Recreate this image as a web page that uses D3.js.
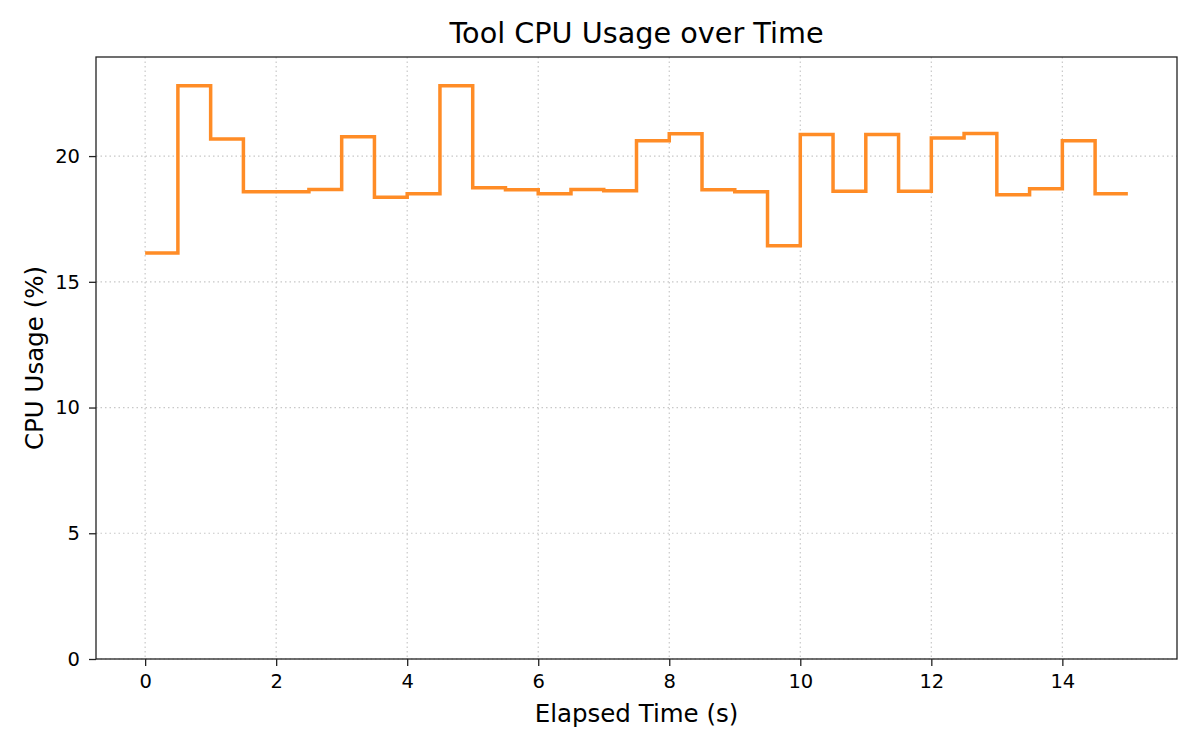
<!DOCTYPE html>
<meta charset="utf-8">
<style>
body { margin: 0; background: white; }
text { font-family: "DejaVu Sans", sans-serif; fill: #000; }
.grid line { stroke: #c8c8c8; stroke-width: 1.2px; stroke-dasharray: 1.5,3; }
.axis path, .axis line { stroke: #222; stroke-width: 1.3px; }
.axis text { font-size: 19.5px; }
</style>
<body>
<script src="https://d3js.org/d3.v7.min.js"></script>
<script>
var width = 1200,
    height = 750;

// sample times (s), step drawn "post"
var times = [0, 0.5, 1, 1.5, 2, 2.5, 3, 3.5, 4, 4.5, 5, 5.5, 6, 6.5, 7, 7.5,
             8, 8.5, 9, 9.5, 10, 10.5, 11, 11.5, 12, 12.5, 13, 13.5, 14, 14.5, 15];
var cpu = [16.15, 22.80, 20.68, 18.58, 18.58, 18.67, 20.77, 18.36, 18.50, 22.80,
           18.74, 18.66, 18.50, 18.67, 18.62, 20.61, 20.89, 18.66, 18.58, 16.43,
           20.86, 18.60, 20.86, 18.60, 20.72, 20.90, 18.46, 18.70, 20.61, 18.50, 18.50];
var xTicks = [0, 2, 4, 6, 8, 10, 12, 14];
var yTicks = [0, 5, 10, 15, 20];

var margin = {top: 57, right: 23, bottom: 91, left: 96};
var w = width - margin.left - margin.right,
    h = height - margin.top - margin.bottom;

var svg = d3.select("body").append("svg")
    .attr("width", width)
    .attr("height", height);

var g = svg.append("g")
    .attr("transform", "translate(" + margin.left + "," + margin.top + ")");

var x = d3.scaleLinear()
    .domain([-0.75, 15.75])
    .range([0, w]);
var y = d3.scaleLinear()
    .domain([0, d3.max(cpu) * 1.05])
    .range([h, 0]);

// grid
g.append("g").attr("class", "grid")
  .selectAll("line").data(xTicks).enter().append("line")
    .attr("x1", function(d) { return x(d); })
    .attr("x2", function(d) { return x(d); })
    .attr("y1", 0).attr("y2", h);
g.append("g").attr("class", "grid")
  .selectAll("line").data(yTicks).enter().append("line")
    .attr("y1", function(d) { return y(d); })
    .attr("y2", function(d) { return y(d); })
    .attr("x1", 0).attr("x2", w);

var line = d3.line()
    .x(function(d, i) { return x(times[i]); })
    .y(function(d) { return y(d); })
    .curve(d3.curveStepAfter);

g.append("path")
    .datum(cpu)
    .attr("d", line)
    .style("fill", "none")
    .style("stroke", "#ff8c26")
    .style("stroke-width", 3.5)
    .style("stroke-linejoin", "miter");

// axes
g.append("g").attr("class", "axis")
    .attr("transform", "translate(0," + h + ")")
    .call(d3.axisBottom(x).tickValues(xTicks).tickSize(7).tickPadding(8).tickSizeOuter(0));
g.append("g").attr("class", "axis")
    .call(d3.axisLeft(y).tickValues(yTicks).tickSize(7).tickPadding(9).tickSizeOuter(0));

// frame
g.append("rect")
    .attr("width", w).attr("height", h)
    .style("fill", "none")
    .style("stroke", "#222")
    .style("stroke-width", 1.3);

svg.selectAll(".axis .domain").remove();

svg.append("text")
    .attr("x", margin.left + w / 2)
    .attr("y", 43)
    .attr("text-anchor", "middle")
    .style("font-size", "28.7px")
    .text("Tool CPU Usage over Time");

svg.append("text")
    .attr("x", margin.left + w / 2)
    .attr("y", 722)
    .attr("text-anchor", "middle")
    .style("font-size", "24.5px")
    .text("Elapsed Time (s)");

svg.append("text")
    .attr("transform", "translate(43," + (margin.top + h / 2) + ") rotate(-90)")
    .attr("text-anchor", "middle")
    .style("font-size", "24.5px")
    .text("CPU Usage (%)");
</script>
</body>
</html>
